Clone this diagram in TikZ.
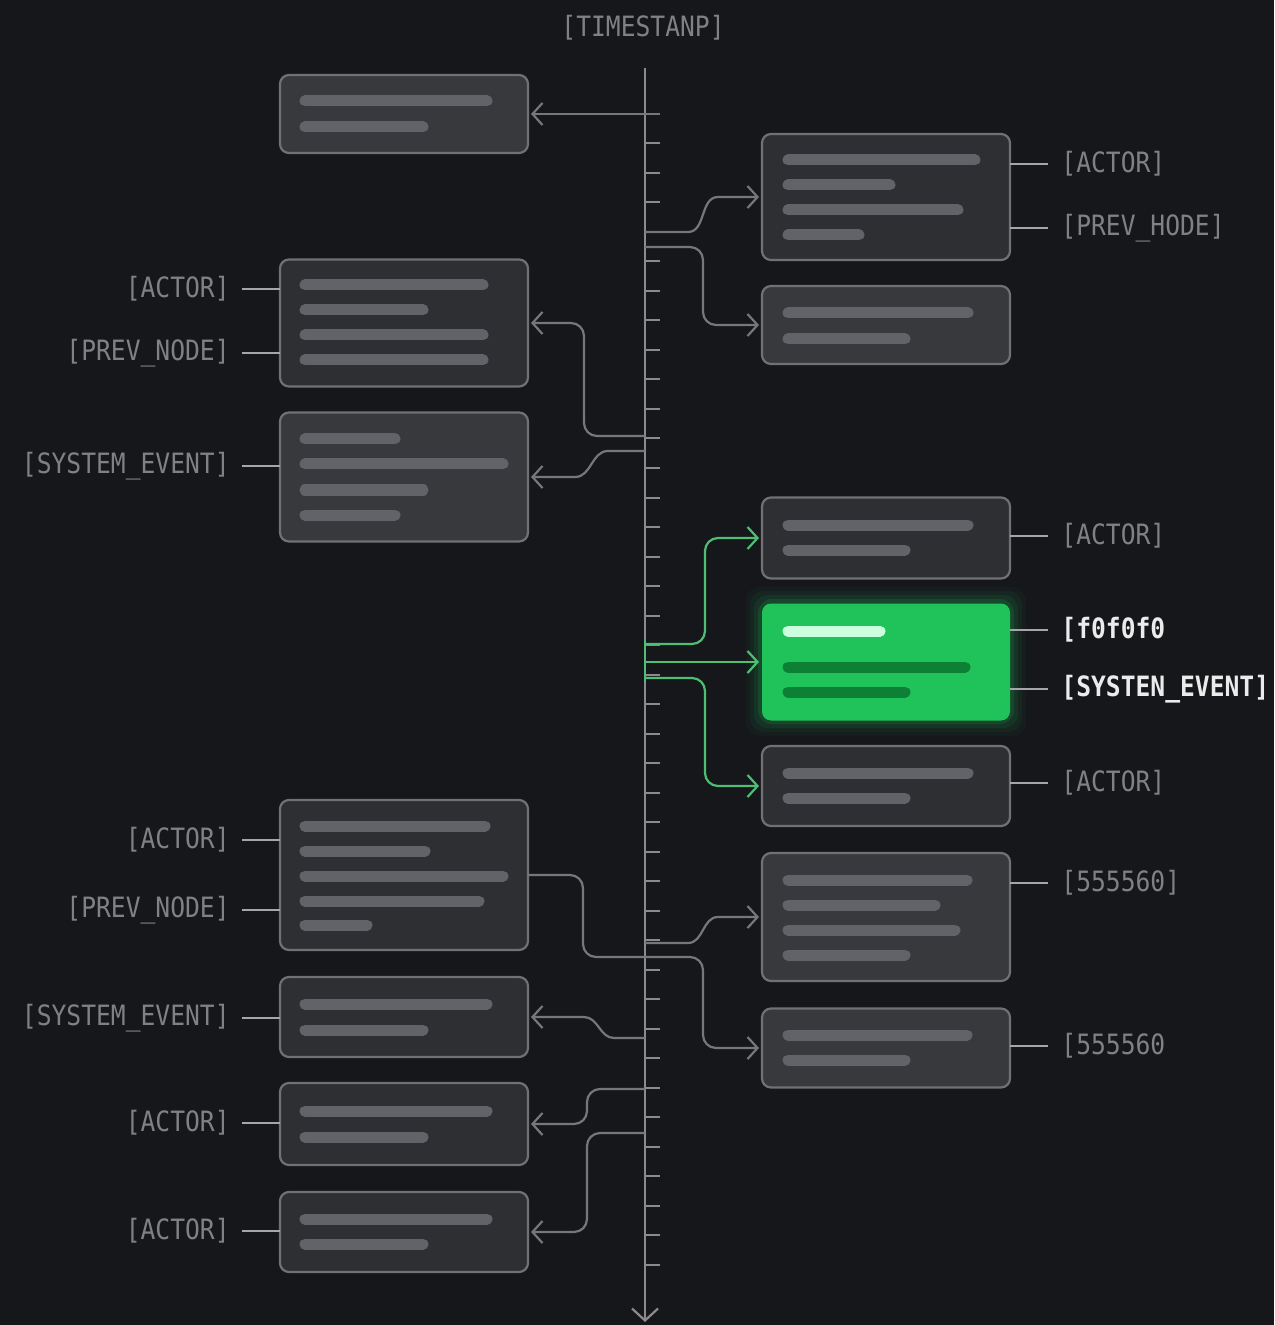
\documentclass[tikz,border=0pt]{standalone}
\usepackage{fontspec}
\setmonofont{DejaVu Sans Mono}[FakeStretch=0.88]
\usetikzlibrary{calc}
\usetikzlibrary{arrows.meta}
\newlength{\px}
\setlength{\px}{0.5pt}
\definecolor{bg}{RGB}{22,23,27}
\definecolor{boxfill}{RGB}{46,47,51}
\definecolor{boxlite}{RGB}{56,57,61}
\definecolor{boxedge}{RGB}{112,112,117}
\definecolor{barcol}{RGB}{98,99,104}
\definecolor{wirecol}{RGB}{118,118,123}
\definecolor{labcol}{RGB}{128,128,133}
\definecolor{hot}{RGB}{32,194,90}
\definecolor{hotwire}{RGB}{78,190,116}
\definecolor{hotbar}{RGB}{12,128,52}
\definecolor{hotlight}{RGB}{205,255,222}

\begin{document}
\begin{tikzpicture}[x=\px,y=-\px,line join=round,
  box/.style={rectangle,draw=boxedge,line width=1.1pt,fill=boxfill,rounded corners=9\px,inner sep=0,outer sep=0,minimum width=248\px},
  lite/.style={fill=boxlite},
  hotbox/.style={box,draw=none,fill=hot},
  bar/.style={draw=barcol,line width=5.5pt,line cap=round},
  wire/.style={draw=wirecol,line width=1.1pt,-{Straight Barb[length=5pt,width=11pt]},shorten >=3\px},
  hotpath/.style={wire,draw=hotwire},
  tick/.style={draw=wirecol!85,line width=1pt},
  lbl/.style={text=labcol,font=\fontsize{14pt}{16pt}\ttfamily,inner sep=0},
  hotlbl/.style={lbl,text=white!92!black,font=\fontsize{14pt}{16pt}\ttfamily\bfseries},
  tag/.style={draw=labcol!70,line width=1pt}]
  \useasboundingbox (0,0) rectangle (1274,1325);
  \fill[bg] (0,0) rectangle (1274,1325);
  % time axis
  \node[lbl] (ts) at (643,28) {[TIMESTANP]};
  \draw[tick,line width=1.1pt,-{Straight Barb[length=6pt,width=13pt]}] (645,68) -- (645,1322);
  \foreach \t in {0,...,39}
    \draw[tick] (645,{114+29.5*\t}) -- ++(15,0);
  \draw[draw=hotwire,line width=1.4pt] (645,640) -- (645,682);
  % left column
  \node[box,lite,minimum height=78\px] (l1) at (404,114) {};
  \node[box,minimum height=127\px] (l2) at (404,323) {};
  \node[box,lite,minimum height=129\px] (l3) at (404,477) {};
  \node[box,minimum height=150\px] (l4) at (404,875) {};
  \node[box,minimum height=80\px] (l5) at (404,1017) {};
  \node[box,minimum height=82\px] (l6) at (404,1124) {};
  \node[box,minimum height=80\px] (l7) at (404,1232) {};
  % right column
  \node[box,minimum height=126\px] (r1) at (886,197) {};
  \node[box,lite,minimum height=78\px] (r2) at (886,325) {};
  \node[box,minimum height=81\px] (r3) at (886,538) {};
  \foreach \d/\o in {16/0.04,12/0.06,8/0.09,4/0.14}
    \fill[hot,opacity=\o,rounded corners=14\px] (762-\d,603-\d) rectangle (1010+\d,720+\d);
  \node[hotbox,minimum height=117\px] (g) at (886,662) {};
  \node[box,minimum height=80\px] (r4) at (886,786) {};
  \node[box,lite,minimum height=128\px] (r5) at (886,917) {};
  \node[box,lite,minimum height=79\px] (r6) at (886,1048) {};
  % placeholder text bars
  \foreach \y/\e in {101/487,127/423, 285/483,310/423,335/483,360/483,
      439/395,464/503,490/423,515/395, 826/485,851/425,876/503,901/479,925/367,
      1004/487,1030/423, 1111/487,1137/423, 1219/487,1244/423}
    \draw[bar] (305,\y) -- (\e,\y);
  \foreach \y/\e in {160/975,185/890,210/958,235/859, 313/968,339/905,
      525/968,550/905, 773/968,798/905, 880/967,905/935,930/955,955/905,
      1035/967,1060/905}
    \draw[bar] (788,\y) -- (\e,\y);
  \draw[bar,draw=hotlight] (788,631) -- (880,631);
  \draw[bar,draw=hotbar] (788,667) -- (965,667);
  \draw[bar,draw=hotbar] (788,692) -- (905,692);
  % labels
  \node[lbl,anchor=east] (la1) at (230,289) {[ACTOR]};
  \node[lbl,anchor=east] (la2) at (230,353) {[PREV\_NODE]};
  \node[lbl,anchor=east] (la3) at (230,466) {[SYSTEM\_EVENT]};
  \node[lbl,anchor=east] (la4) at (230,840) {[ACTOR]};
  \node[lbl,anchor=east] (la5) at (230,910) {[PREV\_NODE]};
  \node[lbl,anchor=east] (la6) at (230,1018) {[SYSTEM\_EVENT]};
  \node[lbl,anchor=east] (la7) at (230,1123) {[ACTOR]};
  \node[lbl,anchor=east] (la8) at (230,1231) {[ACTOR]};
  \node[lbl,anchor=west] (ra1) at (1061,164) {[ACTOR]};
  \node[lbl,anchor=west] (ra2) at (1061,228) {[PREV\_HODE]};
  \node[lbl,anchor=west] (ra3) at (1061,536) {[ACTOR]};
  \node[hotlbl,anchor=west] (ra4) at (1061,630) {[f0f0f0};
  \node[hotlbl,anchor=west] (ra5) at (1061,689) {[SYSTEN\_EVENT]};
  \node[lbl,anchor=west] (ra6) at (1061,783) {[ACTOR]};
  \node[lbl,anchor=west] (ra7) at (1061,883) {[555560]};
  \node[lbl,anchor=west] (ra8) at (1061,1046) {[555560};
  \foreach \a/\b in {la1/l2,la2/l2,la3/l3,la4/l4,la5/l4,la6/l5,la7/l6,la8/l7}
    \draw[tag] ([xshift=12\px]\a.east) -- (\a -| \b.west);
  \foreach \a/\b in {ra1/r1,ra2/r1,ra3/r3,ra4/g,ra5/g,ra6/r4,ra7/r5,ra8/r6}
    \draw[tag] (\a -| \b.east) -- ([xshift=-13\px]\a.west);
  % attach points on the axis
  \coordinate (a1) at (660,114);
  \coordinate (a2) at (645,232);
  \coordinate (a3) at (645,247);
  \coordinate (a4) at (645,436);
  \coordinate (a5) at (645,451);
  \coordinate (a7) at (645,943);
  \coordinate (a8) at (645,1038);
  \coordinate (a9) at (645,1089);
  \coordinate (a10) at (645,1133);
  \coordinate (g1) at (645,644);
  \coordinate (g2) at (645,662);
  \coordinate (g3) at (645,678);
  % connectors
  \path[wire] (a1) -- (l1.east);
  \path[wire] (a2) -- (688,232) to[out=0,in=180] (718,197) -- (r1.west);
  \path[wire] (a3) -- (690,247) to[out=0,in=90] (703,260) -- (703,312) to[out=-90,in=180] (716,325) -- (r2.west);
  \path[wire] (a4) -- (597,436) to[out=180,in=-90] (584,423) -- (584,336) to[out=90,in=0] (571,323) -- (l2.east);
  \path[wire] (a5) -- (608,451) to[out=180,in=0] (575,477) -- (l3.east);
  \path[wire] (l4.east) -- (570,875) to[out=0,in=90] (583,888) -- (583,944) to[out=-90,in=180] (596,957) -- (690,957) to[out=0,in=90] (703,970) -- (703,1035) to[out=-90,in=180] (716,1048) -- (r6.west);
  \path[wire] (a7) -- (688,943) to[out=0,in=180] (718,917) -- (r5.west);
  \path[wire] (a8) -- (614,1038) to[out=180,in=0] (584,1017) -- (l5.east);
  \path[wire] (a9) -- (600,1089) to[out=180,in=90] (587,1102) -- (587,1111) to[out=-90,in=0] (574,1124) -- (l6.east);
  \path[wire] (a10) -- (600,1133) to[out=180,in=90] (587,1146) -- (587,1219) to[out=-90,in=0] (574,1232) -- (l7.east);
  \path[hotpath] (g1) -- (692,644) to[out=0,in=-90] (705,631) -- (705,551) to[out=90,in=180] (718,538) -- (r3.west);
  \path[hotpath] (g2) -- (g.west);
  \path[hotpath] (g3) -- (692,678) to[out=0,in=90] (705,691) -- (705,773) to[out=-90,in=180] (718,786) -- (r4.west);
\end{tikzpicture}
\end{document}
